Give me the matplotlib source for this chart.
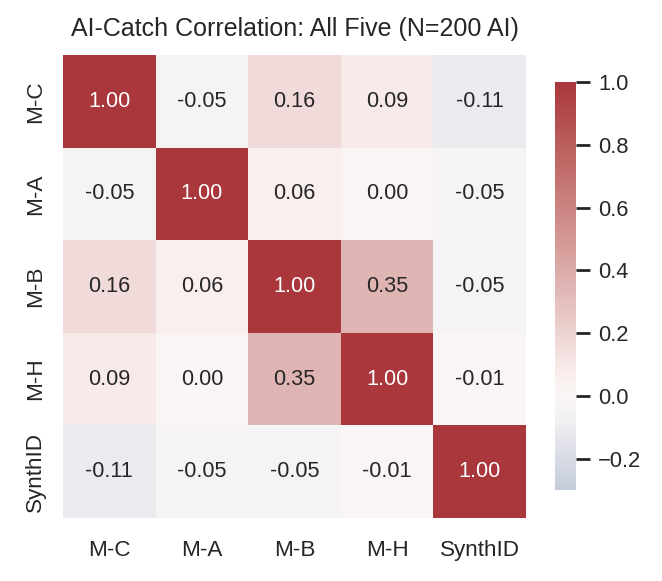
import numpy as np
import matplotlib
matplotlib.use("Agg")
import matplotlib.pyplot as plt
import seaborn as sns

labels = ["M-C", "M-A", "M-B", "M-H", "SynthID"]
corr = np.array([
    [1.00, -0.05, 0.16, 0.09, -0.11],
    [-0.05, 1.00, 0.06, 0.00, -0.05],
    [0.16, 0.06, 1.00, 0.35, -0.05],
    [0.09, 0.00, 0.35, 1.00, -0.01],
    [-0.11, -0.05, -0.05, -0.01, 1.00],
])
title = "AI-Catch Correlation: All Five (N=200 AI)"

sns.set_theme(style="white")
plt.rcParams['font.family'] = ['Liberation Sans', 'DejaVu Sans']

W, H = 662, 581
fig = plt.figure(figsize=(W / 200, H / 200), dpi=200)
ax = fig.add_axes([63 / W, 1 - 518 / H, (526 - 63) / W, (518 - 55) / H])
cax = fig.add_axes([555 / W, 1 - 490 / H, (576 - 555) / W, (490 - 82) / H])

sns.heatmap(corr, ax=ax, cbar_ax=cax, cmap="vlag", center=0, vmin=-0.3, vmax=1.0,
            annot=True, fmt=".2f", annot_kws={"size": 7.8},
            xticklabels=labels, yticklabels=labels)

ax.set_title(title, fontsize=9, color="#262626", pad=7)
ax.tick_params(axis="both", length=0, labelsize=8.1, colors="#262626", pad=6)
ax.tick_params(axis="x", pad=8)
for t in ax.get_yticklabels():
    t.set_rotation(90)
    t.set_va("center")
cax.tick_params(axis="y", length=4.9, width=1.0, labelsize=7.9, colors="#262626", pad=3)
cax.set_yticks([-0.2, 0.0, 0.2, 0.4, 0.6, 0.8, 1.0])

fig.savefig("out.png", dpi=200)
